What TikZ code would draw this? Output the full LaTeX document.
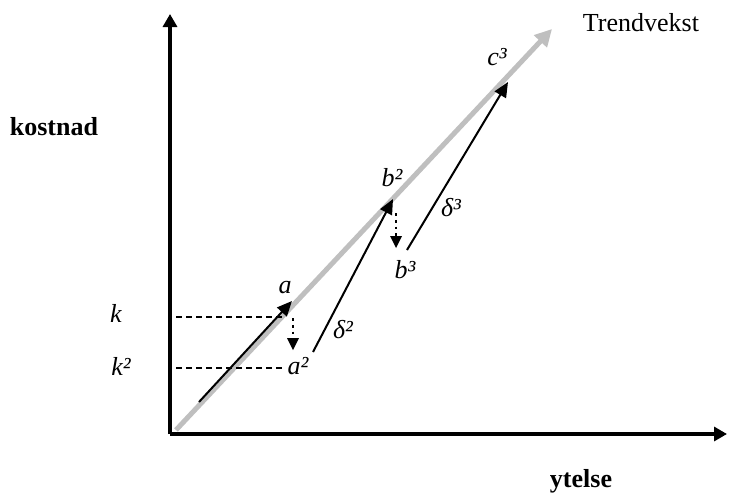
\documentclass[tikz,border=0pt]{standalone}
\usepackage{fontspec}
\setmainfont{Liberation Serif}
\usetikzlibrary{arrows.meta}

\begin{document}
\begin{tikzpicture}[x=0.5pt,y=-0.5pt,
  axis/.style={line width=1.6pt,-{Triangle[length=6.5pt,width=7pt]}},
  trend/.style={line width=2.5pt,color=black!25,-{Triangle[length=8.5pt,width=8.5pt]}},
  movearrow/.style={line width=1pt,-{Triangle[length=7.5pt,width=6.5pt]}},
  drop/.style={line width=1.4pt,dotted,-{Triangle[length=6pt,width=6pt,line width=0pt]}},
  guide/.style={line width=0.6pt,dash pattern=on 3pt off 2pt},
  lbl/.style={font=\fontsize{13}{15}\selectfont\itshape,inner sep=0pt},
  head/.style={font=\fontsize{13}{15}\selectfont\bfseries,inner sep=0pt}]
\useasboundingbox (0,0) rectangle (729,493);

% axes
\coordinate (O) at (170,434);
\coordinate (ytop) at (170,14);
\coordinate (xend) at (727,434);
\draw[axis] (O) -- (ytop);
\draw[axis] (O) -- (xend);

% trend
\coordinate (t0) at (176,430);
\coordinate (t1) at (552,29);
\draw[trend] (t0) -- (t1);

% points
\coordinate (a0) at (199,402);
\coordinate (a) at (292,301);
\coordinate (a2) at (293,350);
\coordinate (a2s) at (313,352);
\coordinate (b2) at (393,199);
\coordinate (b3) at (396,248);
\coordinate (b3s) at (407,250);
\coordinate (c3) at (508,82);
\coordinate (k) at (176,317);
\coordinate (k2) at (176,368);
\coordinate (ke) at (285,317);
\coordinate (k2e) at (282,368);

\draw[movearrow] (a0) -- (a);
\draw[movearrow] (a2s) -- (b2);
\draw[movearrow] (b3s) -- (c3);
\draw[drop] (293,318) -- (a2);
\draw[drop] (396,213) -- (b3);
\draw[guide] (k) -- (ke);
\draw[guide] (k2) -- (k2e);

% labels
\node[lbl] (la) at (285,288) {a};
\node[lbl] (la2) at (298,366) {a²};
\node[lbl] (lb2) at (392,178) {b²};
\node[lbl] (lb3) at (405,270) {b³};
\node[lbl] (lc3) at (497,57) {c³};
\node[lbl] (ld2) at (343,330) {δ²};
\node[lbl] (ld3) at (451,208) {δ³};
\node[lbl] (lk) at (116,313) {k};
\node[lbl] (lk2) at (121,366) {k²};
\node[head] (lcost) at (54,127) {kostnad};
\node[head] (lperf) at (581,481) {ytelse};
\node[inner sep=0pt,font=\fontsize{13}{15}\selectfont] (ltrend) at (641,23) {Trendvekst};
\end{tikzpicture}
\end{document}
